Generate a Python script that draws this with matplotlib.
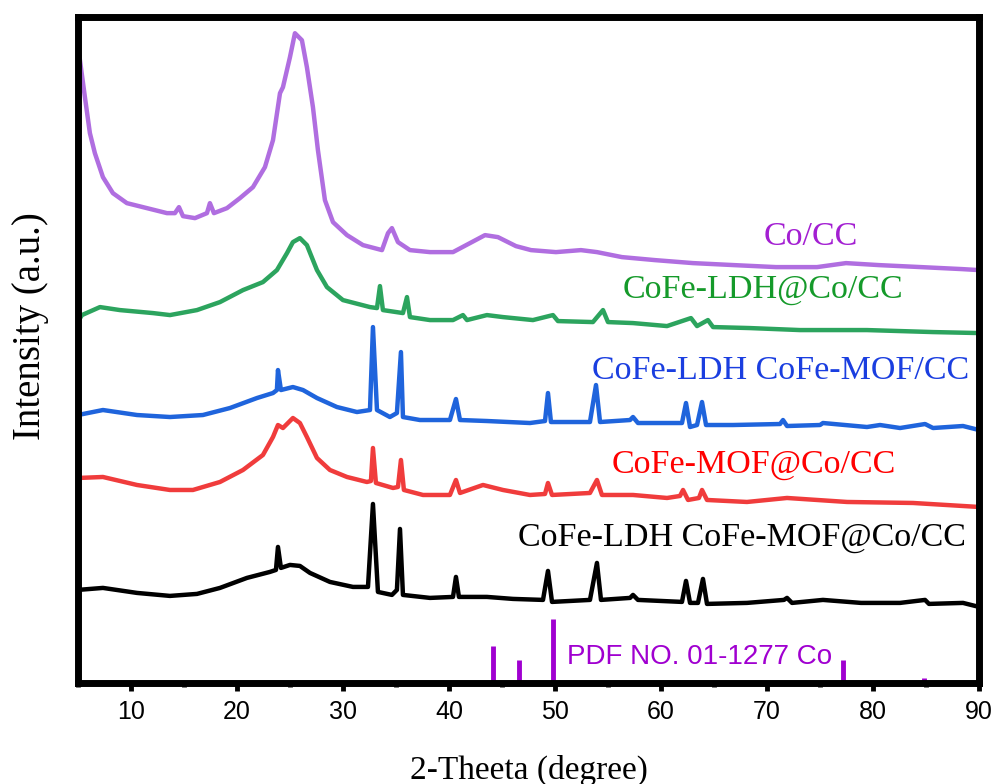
import matplotlib
matplotlib.use("Agg")
import matplotlib.pyplot as plt
from matplotlib.ticker import MultipleLocator

# 2-theta (degree) and intensity (a.u., stacked offsets included)
co_cc_2t = [5.0, 5.09, 5.66, 6.13, 6.60, 7.36, 8.30, 9.62, 11.51, 13.40, 14.15, 14.53, 14.91,
            16.04, 17.17, 17.45, 17.83, 19.06, 20.28, 21.51, 22.64, 23.40, 24.06, 24.34, 25.00,
            25.47, 26.13, 26.60, 27.17, 27.64, 28.30, 29.06, 30.38, 31.89, 33.68, 34.25, 34.62,
            35.19, 36.32, 38.21, 40.38, 41.98, 43.40, 44.62, 46.32, 47.74, 50.09, 52.45, 53.96,
            56.32, 59.43, 63.02, 66.89, 70.85, 74.72, 77.45, 80.57, 84.53, 88.40, 90.0]
co_cc_int = [640, 631, 586, 550, 530, 506, 490, 480, 475, 470, 470, 476, 467,
             465, 470, 480, 470, 475, 485, 496, 516, 543, 590, 596, 626,
             650, 643, 616, 576, 533, 483, 461, 448, 438, 433, 450, 455,
             441, 433, 431, 431, 440, 448, 446, 437, 433, 431, 433, 431,
             426, 423, 420, 418, 416, 416, 420, 418, 416, 414, 413]

ldh_co_2t = [5.0, 5.09, 5.38, 7.08, 8.96, 12.08, 13.68, 16.23, 18.40, 20.57, 22.45, 23.77, 24.72,
             25.28, 25.94, 26.60, 27.55, 28.49, 30.00, 32.55, 33.21, 33.49, 33.77, 35.66, 36.04,
             36.32, 38.21, 40.38, 41.32, 41.70, 43.58, 45.09, 47.92, 49.81, 50.28, 53.58, 54.53,
             55.00, 57.36, 60.57, 62.83, 63.40, 64.43, 64.91, 68.40, 73.11, 79.43, 85.66, 90.0]
ldh_co_int = [406, 363, 368, 376, 373, 370, 368, 373, 381, 393, 401, 413, 430,
              441, 445, 438, 413, 396, 383, 376, 375, 397, 373, 370, 386,
              366, 363, 363, 368, 363, 368, 366, 363, 368, 362, 361, 373,
              361, 360, 357, 365, 357, 363, 356, 355, 353, 353, 351, 350]

ldh_mof_2t = [5.0, 7.36, 10.57, 13.68, 16.79, 19.34, 21.89, 23.40, 23.77, 23.87, 24.15, 25.28,
              26.23, 27.55, 29.43, 31.32, 32.55, 32.83, 33.21, 34.43, 35.09, 35.47, 35.66, 37.26,
              40.09, 40.66, 41.04, 43.58, 47.64, 49.06, 49.34, 49.62, 53.30, 53.87, 54.25, 57.08,
              57.36, 57.83, 61.98, 62.36, 62.74, 63.40, 63.87, 64.25, 66.79, 71.23, 71.51, 71.89,
              75.00, 75.28, 79.43, 80.66, 82.55, 84.91, 85.66, 88.49, 90.0]
ldh_mof_int = [268, 273, 268, 266, 268, 275, 285, 290, 293, 313, 293, 296,
               293, 285, 276, 271, 273, 356, 273, 266, 270, 331, 266, 263,
               263, 284, 263, 262, 260, 262, 290, 261, 261, 298, 261, 263,
               266, 260, 260, 280, 256, 258, 281, 258, 258, 259, 263, 257,
               258, 260, 256, 258, 255, 259, 255, 257, 253]

mof_co_2t = [5.0, 7.36, 10.57, 13.68, 15.85, 18.40, 20.57, 22.45, 23.40, 23.87, 24.34, 25.28,
             25.94, 26.60, 27.55, 28.77, 30.38, 32.26, 32.64, 32.83, 33.11, 34.72, 35.19, 35.47,
             35.75, 37.55, 40.09, 40.66, 41.04, 43.21, 45.09, 47.64, 49.06, 49.34, 49.72, 53.30,
             53.96, 54.43, 57.36, 60.57, 61.79, 62.08, 62.55, 63.58, 63.87, 64.34, 68.11, 71.89,
             77.55, 83.77, 90.0]
mof_co_int = [205, 206, 198, 193, 193, 201, 213, 228, 246, 258, 255, 265,
              260, 246, 225, 213, 206, 201, 202, 235, 200, 195, 196, 223,
              193, 188, 188, 203, 190, 198, 193, 188, 189, 200, 188, 190,
              203, 188, 188, 185, 187, 193, 183, 185, 193, 183, 181, 185,
              181, 180, 176]

ldh_mof_co_2t = [5.0, 7.36, 10.57, 13.68, 16.23, 18.40, 20.94, 23.11, 23.68, 23.87, 24.15, 25.00,
                 25.94, 26.89, 28.77, 30.94, 32.36, 32.83, 33.30, 34.62, 35.09, 35.38, 35.66, 38.21,
                 40.38, 40.66, 40.94, 43.58, 46.04, 48.87, 49.34, 49.72, 53.30, 53.96, 54.34, 57.08,
                 57.36, 57.83, 61.98, 62.36, 62.74, 63.49, 63.96, 64.34, 68.11, 71.60, 71.89, 72.36,
                 75.28, 78.87, 82.55, 84.91, 85.28, 88.49, 90.0]
ldh_mof_co_int = [93, 95, 90, 87, 89, 95, 105, 111, 113, 136, 115, 118,
                  117, 110, 101, 96, 96, 179, 91, 88, 93, 154, 88, 85,
                  86, 106, 86, 86, 84, 83, 112, 81, 83, 120, 83, 85,
                  88, 83, 81, 102, 80, 80, 104, 79, 80, 83, 85, 80,
                  83, 80, 80, 83, 79, 80, 76]

# PDF NO. 01-1277 Co reference lines
pdf_2t = [44.2, 46.6, 49.8, 64.0, 77.2, 84.8]
pdf_int = [37, 23, 64, 2, 23, 5]

series = [
    (co_cc_2t, co_cc_int, '#b06ee0', 'Co/CC', '#a31fd2', 811, 446),
    (ldh_co_2t, ldh_co_int, '#2ca45e', 'CoFe-LDH@Co/CC', '#159a2a', 763, 393),
    (ldh_mof_2t, ldh_mof_int, '#1f64dc', 'CoFe-LDH CoFe-MOF/CC', '#1a3ee0', 781, 312),
    (mof_co_2t, mof_co_int, '#f03c3c', 'CoFe-MOF@Co/CC', '#ff0000', 754, 218),
    (ldh_mof_co_2t, ldh_mof_co_int, '#000000', 'CoFe-LDH CoFe-MOF@Co/CC', '#000000', 742, 145),
]

fig = plt.figure(figsize=(9.99, 7.84), dpi=100)
ax = fig.add_axes([0.078, 0.129, 0.902, 0.849])

serif = ['Liberation Serif', 'DejaVu Serif']
sans = ['Liberation Sans', 'DejaVu Sans']

for x, y, c, label, tc, lx_px, ly in series:
    ax.plot(x, y, color=c, lw=3.2, solid_joinstyle='round')
    lx = 5 + (lx_px - 78) / 10.6
    ax.text(lx, ly, label, color=tc, fontsize=24.5, family=serif, ha='center', va='center')

ax.vlines(pdf_2t, 0, pdf_int, color='#a000d0', lw=3.5)
ax.text(5 + (567 - 78) / 10.6, 26, 'PDF NO. 01-1277 Co', color='#a000d0',
        fontsize=20, family=sans, ha='left', va='center')

ax.set_xlim(5, 90)
ax.set_ylim(0, 666)
ax.xaxis.set_major_locator(MultipleLocator(10))
ax.xaxis.set_minor_locator(MultipleLocator(5))
ax.set_yticks([])
ax.tick_params(axis='x', which='major', direction='out', length=6, width=3.5,
               labelsize=18, pad=6)
ax.tick_params(axis='x', which='minor', direction='out', length=3, width=3.5)
for lab in ax.get_xticklabels():
    lab.set_family(sans)
for sp in ax.spines.values():
    sp.set_linewidth(5)

ax.set_xlabel('2-Theeta (degree)', fontsize=24, family=serif, va='center')
ax.set_ylabel('Intensity (a.u.)', fontsize=28, family=serif, va='center')
ax.xaxis.set_label_coords(0.5, -0.131)
ax.yaxis.set_label_coords(-0.053, 0.536)

fig.savefig('out.png', dpi=100)
